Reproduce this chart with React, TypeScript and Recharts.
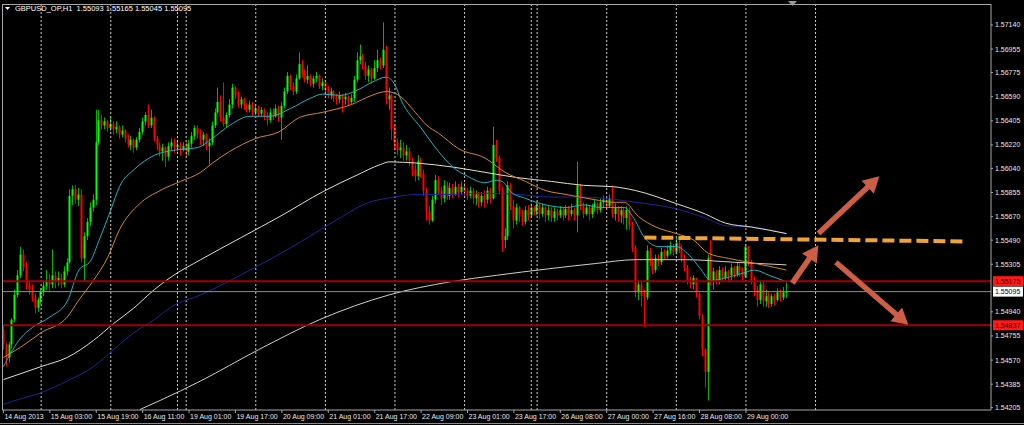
import React from "react";
import { ComposedChart, Bar, Line, XAxis, YAxis, ReferenceLine } from "recharts";

const W = 1024;
const H = 425;
const FONT = "'Liberation Sans', Arial, sans-serif";

// GBPUSD H1 candles, 14 Aug 11:00 .. 29 Aug 2013. open = previous close
const firstOpen = 1.548;
const closes = [
  1.5469, 1.5459, 1.5469, 1.5488, 1.5507, 1.5522, 1.5538, 1.5528, 1.5515, 1.5511,
  1.5505, 1.5497, 1.5503, 1.5509, 1.5514, 1.5518, 1.5515, 1.5522, 1.5517, 1.552,
  1.5515, 1.5525, 1.5532, 1.5583, 1.5588, 1.558, 1.5584, 1.5535, 1.5552, 1.5563,
  1.5574, 1.558, 1.5624, 1.5641, 1.5637, 1.564, 1.5635, 1.5638, 1.5634, 1.5636,
  1.563, 1.5633, 1.5627, 1.5622, 1.5626, 1.562, 1.5626, 1.5632, 1.564, 1.5645,
  1.5637, 1.5643, 1.5627, 1.5622, 1.5617, 1.562, 1.5613, 1.5621, 1.5624, 1.562,
  1.5622, 1.5618, 1.5621, 1.5617, 1.5623, 1.5629, 1.5635, 1.563, 1.5626, 1.563,
  1.5621, 1.5624, 1.5637, 1.5647, 1.5655, 1.5643, 1.5638, 1.5645, 1.5653, 1.5666,
  1.566, 1.5653, 1.5657, 1.5652, 1.5649, 1.5653, 1.5647, 1.565, 1.5646, 1.5649,
  1.5644, 1.5641, 1.5647, 1.5644, 1.565, 1.5643, 1.5652, 1.5663, 1.5675, 1.5667,
  1.5663, 1.5673, 1.5684, 1.5676, 1.5672, 1.5675, 1.5669, 1.5673, 1.5675, 1.5667,
  1.567, 1.5664, 1.566, 1.5663, 1.5658, 1.5657, 1.566, 1.5657, 1.5659, 1.5655,
  1.5658, 1.5672, 1.5687, 1.569, 1.5683, 1.5675, 1.568, 1.5673, 1.5681, 1.5687,
  1.5683, 1.5695, 1.5657, 1.566, 1.5634, 1.5624, 1.5618, 1.562, 1.5614, 1.5617,
  1.561, 1.5603, 1.5598, 1.561, 1.56, 1.5587, 1.5571, 1.5564, 1.558, 1.5595,
  1.5587, 1.5581, 1.5591, 1.5583, 1.5589, 1.5584, 1.559, 1.5586, 1.559, 1.5587,
  1.5583, 1.5587, 1.5581, 1.5584, 1.5578, 1.5583, 1.558, 1.5587, 1.5581, 1.5622,
  1.5612, 1.5587, 1.5549, 1.5552, 1.5591, 1.5575, 1.5564, 1.5574, 1.5568, 1.5563,
  1.5572, 1.5568, 1.5574, 1.5571, 1.5576, 1.5569, 1.5574, 1.5568, 1.5572, 1.5566,
  1.5571, 1.5568, 1.5572, 1.5568, 1.5573, 1.5569, 1.5572, 1.5568, 1.5591, 1.5575,
  1.5569, 1.5574, 1.5569, 1.5574, 1.5577, 1.5572, 1.5578, 1.558, 1.5575, 1.5581,
  1.5569, 1.5574, 1.5568, 1.5572, 1.5566, 1.5572, 1.556, 1.5543, 1.5509, 1.5515,
  1.5506, 1.5505, 1.5541, 1.5532, 1.5526, 1.5535, 1.5532, 1.554, 1.5537, 1.5541,
  1.5545, 1.554, 1.5547, 1.5541, 1.5535, 1.5528, 1.5518, 1.5515, 1.552, 1.5508,
  1.5491, 1.5465, 1.5448, 1.5535, 1.5517, 1.5525, 1.5518, 1.5526, 1.552, 1.5525,
  1.5522, 1.5528, 1.5523, 1.5529, 1.5525, 1.5521, 1.5544, 1.5532, 1.5518, 1.5511,
  1.5503, 1.5515, 1.5502, 1.5506, 1.55, 1.5506, 1.5503, 1.5509, 1.5505, 1.5509,
  1.55095,
];
const highs = [
  1.5484, 1.547, 1.5471, 1.5489, 1.5511, 1.5526, 1.5544, 1.5542, 1.5532, 1.5518,
  1.5515, 1.5508, 1.5505, 1.5512, 1.5517, 1.5526, 1.5523, 1.5542, 1.5525, 1.5525,
  1.5523, 1.5529, 1.5535, 1.5588, 1.5591, 1.5591, 1.5589, 1.5588, 1.5555, 1.5566,
  1.5578, 1.5584, 1.5649, 1.5649, 1.5645, 1.5643, 1.5641, 1.5643, 1.564, 1.564,
  1.5637, 1.5637, 1.5634, 1.563, 1.5629, 1.5627, 1.5628, 1.5635, 1.5643, 1.5647,
  1.5653, 1.5649, 1.5644, 1.5629, 1.5624, 1.5623, 1.5621, 1.5624, 1.5627, 1.5627,
  1.5626, 1.5624, 1.5624, 1.5624, 1.5626, 1.5632, 1.5637, 1.5637, 1.5634, 1.5632,
  1.5631, 1.5627, 1.564, 1.565, 1.5666, 1.566, 1.567, 1.5647, 1.5657, 1.5669,
  1.5667, 1.5663, 1.5659, 1.5658, 1.5654, 1.5656, 1.5655, 1.5653, 1.5652, 1.5651,
  1.565, 1.5647, 1.565, 1.565, 1.5653, 1.5652, 1.5655, 1.5666, 1.5678, 1.5676,
  1.567, 1.5676, 1.5693, 1.5687, 1.568, 1.5683, 1.5676, 1.5675, 1.5678, 1.5676,
  1.5673, 1.5672, 1.5667, 1.5666, 1.5664, 1.5661, 1.5663, 1.5661, 1.5662, 1.566,
  1.5661, 1.5675, 1.5693, 1.5699, 1.5692, 1.5686, 1.5683, 1.5681, 1.5687, 1.5695,
  1.5689, 1.5716, 1.5698, 1.5666, 1.5661, 1.5637, 1.5627, 1.5626, 1.5624, 1.5622,
  1.562, 1.5612, 1.5607, 1.5614, 1.5612, 1.5603, 1.5589, 1.5575, 1.5583, 1.5599,
  1.5598, 1.559, 1.5595, 1.5594, 1.5593, 1.5592, 1.5594, 1.5592, 1.5594, 1.5593,
  1.5589, 1.559, 1.5589, 1.5587, 1.5586, 1.5586, 1.5587, 1.559, 1.5589, 1.5636,
  1.5626, 1.5614, 1.559, 1.5558, 1.5594, 1.5593, 1.558, 1.5577, 1.5575, 1.5572,
  1.5575, 1.5576, 1.5577, 1.5575, 1.5578, 1.5577, 1.5577, 1.5575, 1.5575, 1.5574,
  1.5574, 1.5573, 1.5575, 1.5574, 1.5576, 1.5575, 1.5577, 1.5574, 1.5609, 1.5592,
  1.5578, 1.5577, 1.5576, 1.5577, 1.558, 1.5578, 1.5581, 1.5583, 1.5581, 1.5584,
  1.5591, 1.5577, 1.5575, 1.5575, 1.5574, 1.5575, 1.5574, 1.5563, 1.5545, 1.5518,
  1.5517, 1.5511, 1.5545, 1.5543, 1.5535, 1.5538, 1.5538, 1.5543, 1.5542, 1.5545,
  1.5548, 1.5546, 1.5551, 1.5549, 1.5545, 1.5538, 1.553, 1.5521, 1.5522, 1.5518,
  1.5509, 1.5492, 1.5466, 1.5538, 1.5549, 1.5528, 1.5526, 1.5529, 1.5528, 1.5529,
  1.5526, 1.5531, 1.5529, 1.5532, 1.5531, 1.5528, 1.5546, 1.5545, 1.5534, 1.5521,
  1.5514, 1.5518, 1.5517, 1.5511, 1.5509, 1.5508, 1.5508, 1.5512, 1.5511, 1.5513,
  1.55165,
];
const lows = [
  1.5465, 1.5452, 1.5455, 1.5466, 1.5486, 1.5505, 1.552, 1.5525, 1.5511, 1.5507,
  1.5502, 1.5493, 1.5494, 1.55, 1.5506, 1.5511, 1.5509, 1.5512, 1.5512, 1.5514,
  1.5512, 1.5513, 1.5522, 1.5531, 1.5576, 1.5577, 1.5575, 1.5532, 1.5517, 1.5549,
  1.556, 1.5571, 1.5576, 1.5622, 1.5634, 1.5634, 1.5632, 1.5633, 1.563, 1.5631,
  1.5627, 1.5628, 1.5624, 1.562, 1.5618, 1.5616, 1.5618, 1.5624, 1.563, 1.5637,
  1.5635, 1.5635, 1.5625, 1.5618, 1.5613, 1.561, 1.5605, 1.561, 1.5618, 1.5616,
  1.5617, 1.5614, 1.5617, 1.5613, 1.5614, 1.562, 1.5626, 1.5627, 1.5622, 1.5621,
  1.5618, 1.5607, 1.5622, 1.5635, 1.5646, 1.564, 1.5636, 1.5635, 1.5643, 1.565,
  1.5657, 1.5651, 1.565, 1.5649, 1.5647, 1.5647, 1.5644, 1.5645, 1.5643, 1.5644,
  1.5641, 1.5637, 1.5639, 1.5641, 1.5643, 1.564, 1.5626, 1.565, 1.5661, 1.5664,
  1.566, 1.5661, 1.5672, 1.5674, 1.567, 1.5669, 1.5667, 1.5666, 1.567, 1.5665,
  1.5664, 1.5662, 1.5658, 1.5657, 1.5655, 1.5653, 1.5654, 1.5647, 1.5653, 1.5652,
  1.5653, 1.5655, 1.567, 1.5684, 1.568, 1.5672, 1.567, 1.5669, 1.5672, 1.5678,
  1.568, 1.5681, 1.5653, 1.5649, 1.5626, 1.5618, 1.5614, 1.5612, 1.561, 1.561,
  1.5606, 1.5598, 1.5594, 1.5595, 1.5597, 1.5583, 1.5564, 1.5561, 1.5563, 1.5577,
  1.5584, 1.5576, 1.5578, 1.558, 1.558, 1.5581, 1.5583, 1.5582, 1.5584, 1.5583,
  1.558, 1.5581, 1.5577, 1.5576, 1.5574, 1.5575, 1.5574, 1.5577, 1.5577, 1.558,
  1.5609, 1.5584, 1.554, 1.5543, 1.5549, 1.5572, 1.5558, 1.5561, 1.5563, 1.556,
  1.5561, 1.5564, 1.5566, 1.5568, 1.5568, 1.5565, 1.5567, 1.5563, 1.5564, 1.5563,
  1.5563, 1.5564, 1.5566, 1.5564, 1.5566, 1.5564, 1.5567, 1.5564, 1.5555, 1.5572,
  1.5566, 1.5568, 1.5564, 1.5566, 1.5571, 1.5569, 1.557, 1.5574, 1.5573, 1.5574,
  1.5566, 1.5564, 1.5563, 1.5562, 1.5561, 1.5557, 1.5557, 1.554, 1.5505, 1.5503,
  1.5498, 1.5482, 1.5503, 1.5529, 1.5523, 1.5524, 1.5529, 1.553, 1.5534, 1.5535,
  1.5538, 1.5537, 1.5538, 1.5539, 1.5532, 1.5525, 1.5515, 1.5512, 1.5511, 1.5505,
  1.5488, 1.546, 1.5436, 1.5426, 1.5514, 1.5511, 1.5515, 1.5515, 1.5517, 1.5518,
  1.5517, 1.5518, 1.552, 1.5521, 1.5521, 1.5518, 1.552, 1.5529, 1.5515, 1.5506,
  1.5498, 1.55, 1.5498, 1.5498, 1.5497, 1.5498, 1.5499, 1.5502, 1.5502, 1.5503,
  1.55045,
];

// bar slots incl. the empty space on the right (chart shift)
const SLOTS = 341;

const tickBars = [0, 16, 32, 48, 64, 80, 96, 112, 128, 144, 160, 176, 192, 208, 224, 240, 256];
const tickLabels = [
  "14 Aug 2013", "15 Aug 03:00", "15 Aug 19:00", "16 Aug 11:00", "19 Aug 01:00",
  "19 Aug 17:00", "20 Aug 09:00", "21 Aug 01:00", "21 Aug 17:00", "22 Aug 09:00",
  "23 Aug 01:00", "23 Aug 17:00", "26 Aug 08:00", "27 Aug 00:00", "27 Aug 16:00",
  "28 Aug 08:00", "29 Aug 00:00",
];
const priceTicks = [
  1.5714, 1.56955, 1.56775, 1.5659, 1.56405, 1.5622, 1.5604, 1.55855, 1.5567,
  1.5549, 1.55305, 1.5494, 1.54755, 1.5457, 1.54385, 1.54205,
];
const daySeparators = [13, 37, 60, 63, 87, 111, 135, 159, 182, 184, 208, 232, 256, 280];

// moving averages as [bar, price]
const maFast = [
  [0, 1.5452], [6, 1.5474], [10, 1.5482], [16, 1.549], [22, 1.5502], [26, 1.5526], [30, 1.5533],
  [33, 1.5549], [37, 1.5572], [40, 1.559], [45, 1.5603], [52, 1.5614], [59, 1.5618], [67, 1.562],
  [72, 1.5627], [78, 1.5637], [85, 1.5644], [92, 1.5644], [99, 1.565], [106, 1.5658], [110, 1.5661],
  [116, 1.566], [122, 1.5664], [127, 1.567], [132, 1.5674], [135, 1.5668], [137, 1.5657],
  [144, 1.5635], [150, 1.5617], [155, 1.5605], [160, 1.5598], [166, 1.5593], [170, 1.5595],
  [172, 1.5594], [175, 1.5586], [180, 1.5581], [187, 1.5576], [194, 1.5574], [200, 1.5576],
  [206, 1.5574], [214, 1.5574], [217, 1.5567], [221, 1.5551], [226, 1.5544], [232, 1.5544],
  [237, 1.5536], [240, 1.5528], [244, 1.5518], [249, 1.552], [254, 1.5523], [259, 1.5526],
  [264, 1.5522], [270, 1.5517],
];
const maMid = [
  [0, 1.5459], [6, 1.5467], [13, 1.5478], [22, 1.549], [26, 1.5503], [31, 1.5518], [36, 1.5536],
  [40, 1.5557], [47, 1.5577], [54, 1.5587], [61, 1.5594], [68, 1.5601], [72, 1.5608], [78, 1.5617],
  [87, 1.5627], [95, 1.5632], [102, 1.5643], [110, 1.5647], [120, 1.5653], [127, 1.566],
  [132, 1.5663], [137, 1.5659], [142, 1.5647], [146, 1.5637], [150, 1.5631], [157, 1.5619],
  [166, 1.5612], [173, 1.5601], [180, 1.5594], [187, 1.5587], [194, 1.5584], [204, 1.558],
  [210, 1.5578], [214, 1.5578], [219, 1.5567], [225, 1.5559], [232, 1.5554], [238, 1.5549],
  [243, 1.5539], [250, 1.5535], [257, 1.5532], [264, 1.5529], [270, 1.5526],
];
const maSlow = [
  [0, 1.5442], [13, 1.5452], [22, 1.5459], [31, 1.5472], [38, 1.5485], [45, 1.5497], [52, 1.5511],
  [58, 1.5521], [68, 1.5534], [82, 1.5551], [96, 1.5568], [110, 1.5586], [122, 1.5599],
  [130, 1.5607], [133, 1.5609], [143, 1.5608], [155, 1.5605], [166, 1.5601], [177, 1.5597],
  [189, 1.5594], [200, 1.5591], [210, 1.559], [218, 1.5587], [232, 1.5577], [242, 1.5569],
  [249, 1.5562], [258, 1.5559], [270, 1.5554],
];
const maBlue = [
  [0, 1.5423], [4, 1.5426], [13, 1.5432], [22, 1.5441], [31, 1.5452], [38, 1.5465], [45, 1.5478],
  [52, 1.5488], [58, 1.5498], [68, 1.5507], [85, 1.5526], [102, 1.5547], [116, 1.5566],
  [126, 1.5578], [132, 1.5581], [143, 1.5584], [155, 1.5584], [166, 1.5585], [177, 1.5584],
  [189, 1.5582], [200, 1.5582], [218, 1.5578], [232, 1.5573], [242, 1.5566], [249, 1.556],
  [258, 1.5559], [270, 1.5554],
];
const maLong = [
  [47, 1.5419], [54, 1.5426], [68, 1.5441], [88, 1.5465], [109, 1.5488], [133, 1.5507],
  [154, 1.5517], [170, 1.5522], [188, 1.5527], [204, 1.5531], [218, 1.5534], [235, 1.5534],
  [252, 1.5532], [270, 1.553],
];

const resistance = 1.55175;
const support = 1.54837;
const bid = 1.55095;
const breakout = [{ x: 221, y: 1.5551 }, { x: 331, y: 1.5548 }];
const arrows = [
  [{ x: 272, y: 1.5516 }, { x: 281, y: 1.5545 }],
  [{ x: 281, y: 1.5554 }, { x: 302, y: 1.5598 }],
  [{ x: 287, y: 1.5532 }, { x: 312, y: 1.5484 }],
];

type Row = { [k: string]: any };
const rows: Row[] = Array.from({ length: SLOTS }, (_, i) => ({ i }));
closes.forEach((c, i) => {
  const o = i === 0 ? firstOpen : closes[i - 1];
  const h = Math.max(highs[i], o, c);
  const l = Math.min(lows[i], o, c);
  Object.assign(rows[i], { o, h, l, c, range: [l, h] });
});
const addMa = (key: string, pts: number[][]) => pts.forEach(([b, v]) => (rows[b][key] = v));
addMa("fast", maFast);
addMa("mid", maMid);
addMa("slow", maSlow);
addMa("blue", maBlue);
addMa("long", maLong);

const UP = "#00ff00";
const UP_WICK = "#00b400";
const DOWN = "#ff0000";
const FRAME = "#a8a8a8";
const ARROW = "#cc5e45";

function Candle(props: any) {
  const { x, y, width, height, payload } = props;
  if (!payload || payload.c == null || !isFinite(y) || !isFinite(height)) return <g />;
  const { o, h, l, c } = payload;
  const top = Math.min(y, y + height);
  const hgt = Math.abs(height);
  const span = h - l || 1e-9;
  const py = (v: number) => top + ((h - v) / span) * hgt;
  const up = c >= o;
  const cx = Math.floor(x + width / 2);
  const b1 = py(Math.max(o, c));
  const b2 = py(Math.min(o, c));
  return (
    <g>
      <line x1={cx + 0.5} x2={cx + 0.5} y1={top} y2={top + hgt} stroke={up ? UP_WICK : DOWN} strokeWidth={1} />
      <rect x={cx - 0.5} y={b1} width={2} height={Math.max(1, b2 - b1)} fill={up ? UP : DOWN} />
    </g>
  );
}

function Arrow(props: any) {
  const { x1, y1, x2, y2 } = props;
  const a = Math.atan2(y2 - y1, x2 - x1);
  const len = 16;
  const half = 9;
  const bx = x2 - len * Math.cos(a);
  const by = y2 - len * Math.sin(a);
  const px = half * Math.sin(a);
  const py = -half * Math.cos(a);
  return (
    <g>
      <line x1={x1} y1={y1} x2={bx + 2 * Math.cos(a)} y2={by + 2 * Math.sin(a)} stroke={ARROW} strokeWidth={5.5} />
      <polygon points={`${x2},${y2} ${bx + px},${by + py} ${bx - px},${by - py}`} fill={ARROW} />
    </g>
  );
}

const priceTag = (value: number, bg: string, fg: string) => (p: any) => {
  const vb = p.viewBox || {};
  const right = (vb.x || 0) + (vb.width || 0);
  const cy = vb.y || 0;
  return (
    <g>
      <rect x={right + 2} y={cy - 5} width={30} height={10} fill={bg} />
      <text x={right + 4} y={cy + 2.6} fontSize={7} fontFamily={FONT} fill={fg}>
        {value.toFixed(5)}
      </text>
    </g>
  );
};

export default function App() {
  const maLine = (key: string, color: string) => (
    <Line
      key={key}
      dataKey={key}
      stroke={color}
      strokeWidth={1}
      dot={false}
      type="monotone"
      connectNulls
      isAnimationActive={false}
    />
  );
  return (
    <div style={{ position: "fixed", left: 0, top: 0, width: W, height: H, background: "#000", overflow: "hidden" }}>
      <ComposedChart width={W} height={H} data={rows} margin={{ top: 4, right: 0, bottom: 0, left: 2 }}>
        <XAxis
          dataKey="i"
          type="category"
          ticks={tickBars}
          interval={0}
          tickFormatter={(v: any) => tickLabels[tickBars.indexOf(Number(v))] ?? ""}
          height={15}
          tickSize={3}
          tickMargin={1}
          tick={{ fill: "#e8e8e8", fontSize: 7, fontFamily: FONT, textAnchor: "start", dx: 1 }}
          axisLine={{ stroke: FRAME }}
          tickLine={{ stroke: FRAME }}
        />
        <YAxis
          orientation="right"
          type="number"
          domain={[1.54187, 1.57301]}
          allowDataOverflow
          ticks={priceTicks}
          interval={0}
          width={33}
          tickSize={2}
          tickMargin={2}
          tickFormatter={(v: number) => v.toFixed(5)}
          tick={{ fill: "#e8e8e8", fontSize: 7, fontFamily: FONT }}
          axisLine={{ stroke: FRAME }}
          tickLine={{ stroke: FRAME }}
        />
        {daySeparators.map((b) => (
          <ReferenceLine key={"sep" + b} x={b} stroke="#d0d0d0" strokeDasharray="2 2" />
        ))}
        <Bar dataKey="range" shape={(p: any) => <Candle {...p} />} isAnimationActive={false} />
        {maLine("long", "#cfcfc6")}
        {maLine("blue", "#22229a")}
        {maLine("slow", "#e6dfc4")}
        {maLine("mid", "#d4891f")}
        {maLine("fast", "#22b2c2")}
        <ReferenceLine y={bid} stroke="#8a9099" strokeWidth={1} label={priceTag(bid, "#ffffff", "#000000")} />
        <ReferenceLine y={resistance} stroke="#a00000" strokeWidth={2} label={priceTag(resistance, "#ff1a1a", "#3a0000")} />
        <ReferenceLine y={support} stroke="#a00000" strokeWidth={2} label={priceTag(support, "#ff1a1a", "#3a0000")} />
        <ReferenceLine segment={breakout} stroke="#f0a33a" strokeWidth={4} strokeDasharray="12 5" ifOverflow="visible" />
        {arrows.map((seg, k) => (
          <ReferenceLine key={"arr" + k} segment={seg} ifOverflow="visible" shape={(p: any) => <Arrow {...p} />} />
        ))}
      </ComposedChart>
      <div
        style={{
          position: "absolute", left: 2, top: 4, width: 989, height: 406,
          borderTop: `1px solid ${FRAME}`, borderLeft: `1px solid ${FRAME}`, boxSizing: "border-box", pointerEvents: "none",
        }}
      />
      <div style={{ position: "absolute", left: 0, top: 423, width: W, height: 1, background: "#8c8c8c" }} />
      <svg style={{ position: "absolute", left: 0, top: 0 }} width={W} height={14}>
        <polygon points="5,7 10,7 7.5,10" fill="#ffffff" />
        <polygon points="788,1 797,1 792.5,6" fill="#9a9a9a" />
      </svg>
      <div
        style={{
          position: "absolute", left: 15, top: 5, color: "#ffffff", fontFamily: FONT, fontSize: 7.5,
          lineHeight: "8px", whiteSpace: "pre",
        }}
      >
        {"GBPUSD_OP,H1  1.55093 1.55165 1.55045 1.55095"}
      </div>
    </div>
  );
}
